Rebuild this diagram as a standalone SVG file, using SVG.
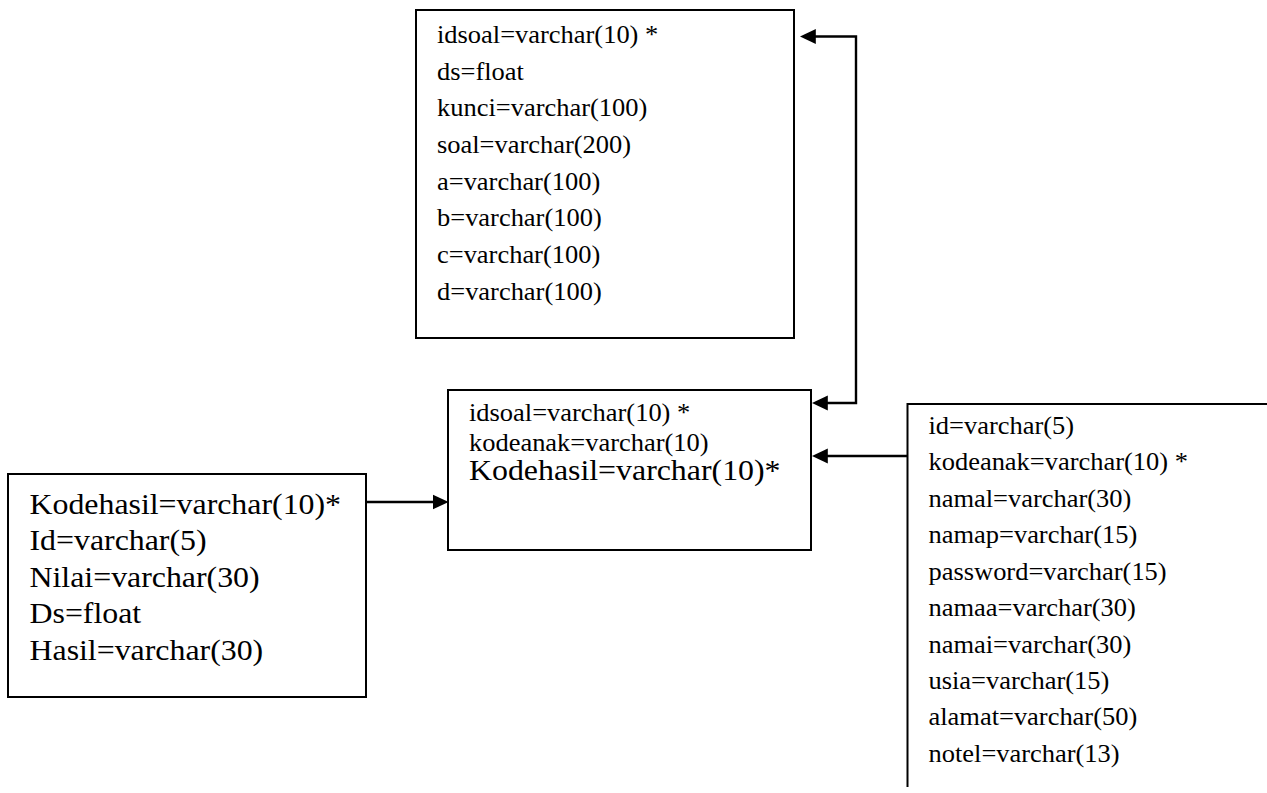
<svg xmlns="http://www.w3.org/2000/svg" width="1267" height="793" viewBox="0 0 1267 793">
  <style>
    .box { fill: #ffffff; stroke: #000000; stroke-width: 2; }
    .open { fill: none; stroke: #000000; stroke-width: 2; }
    .edge { fill: none; stroke: #000000; stroke-width: 2.4; }
    .t { font-family: "Liberation Serif", "Times New Roman", serif; fill: #000000; font-size: 24.5px; }
    .tl { font-family: "Liberation Serif", "Times New Roman", serif; fill: #000000; font-size: 29.5px; }
  </style>
  <defs>
    <marker id="arrow" markerUnits="userSpaceOnUse" markerWidth="16" markerHeight="16" viewBox="0 0 15 14" refX="5" refY="7" orient="auto-start-reverse">
      <path d="M0,0 L15,7 L0,14 z" fill="#000000"/>
    </marker>
  </defs>
  <rect width="1267" height="793" fill="#ffffff"/>

  <!-- soal table -->
  <g id="soal">
    <rect class="box" x="416" y="10" width="378" height="328"/>
    <g transform="translate(437,0) scale(1.08,1)">
      <text class="t" x="0" y="43">idsoal=varchar(10) *</text>
      <text class="t" x="0" y="79.7">ds=float</text>
      <text class="t" x="0" y="116.4">kunci=varchar(100)</text>
      <text class="t" x="0" y="153.1">soal=varchar(200)</text>
      <text class="t" x="0" y="189.8">a=varchar(100)</text>
      <text class="t" x="0" y="226.5">b=varchar(100)</text>
      <text class="t" x="0" y="263.2">c=varchar(100)</text>
      <text class="t" x="0" y="299.9">d=varchar(100)</text>
    </g>
  </g>

  <!-- relation table -->
  <g id="relasi">
    <rect class="box" x="448" y="390" width="363" height="160"/>
    <g transform="translate(469,0) scale(1.08,1)">
      <text class="t" x="0" y="421">idsoal=varchar(10) *</text>
      <text class="t" x="0" y="451">kodeanak=varchar(10)</text>
      <text class="tl" x="0" y="480">Kodehasil=varchar(10)*</text>
    </g>
  </g>

  <!-- hasil table -->
  <g id="hasil">
    <rect class="box" x="8" y="474" width="358" height="223"/>
    <g transform="translate(29.5,0) scale(1.08,1)">
      <text class="tl" x="0" y="514">Kodehasil=varchar(10)*</text>
      <text class="tl" x="0" y="550.5">Id=varchar(5)</text>
      <text class="tl" x="0" y="587">Nilai=varchar(30)</text>
      <text class="tl" x="0" y="623.5">Ds=float</text>
      <text class="tl" x="0" y="660">Hasil=varchar(30)</text>
    </g>
  </g>

  <!-- anak table: frame open to the right and bottom -->
  <g id="anak">
    <path class="open" d="M907.5,787 L907.5,404 L1267,404"/>
    <g transform="translate(928.5,0) scale(1.08,1)">
      <text class="t" x="0" y="434">id=varchar(5)</text>
      <text class="t" x="0" y="470.4">kodeanak=varchar(10) *</text>
      <text class="t" x="0" y="506.9">namal=varchar(30)</text>
      <text class="t" x="0" y="543.3">namap=varchar(15)</text>
      <text class="t" x="0" y="579.8">password=varchar(15)</text>
      <text class="t" x="0" y="616.2">namaa=varchar(30)</text>
      <text class="t" x="0" y="652.6">namai=varchar(30)</text>
      <text class="t" x="0" y="689.1">usia=varchar(15)</text>
      <text class="t" x="0" y="725.5">alamat=varchar(50)</text>
      <text class="t" x="0" y="762">notel=varchar(13)</text>
    </g>
  </g>

  <!-- connectors -->
  <g id="connectors">
    <path class="edge" d="M366,502 L438,502" marker-end="url(#arrow)"/>
    <path class="edge" d="M907.5,456 L822.5,456" marker-end="url(#arrow)"/>
    <path class="edge" d="M822.5,403 L856,403 L856,36.5 L810.5,36.5" marker-start="url(#arrow)" marker-end="url(#arrow)"/>
  </g>
</svg>
